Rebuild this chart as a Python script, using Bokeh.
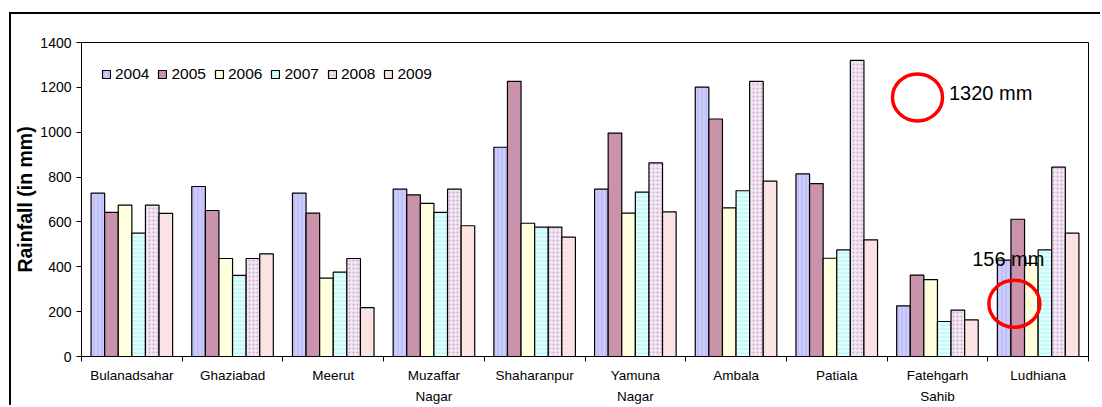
from bokeh.plotting import figure
from bokeh.models import ColumnDataSource, FixedTicker, Range1d
from bokeh.transform import dodge
from bokeh.core.properties import value
from bokeh.embed import file_html
from bokeh.resources import INLINE

districts = ["Bulanadsahar", "Ghaziabad", "Meerut", "Muzaffar\nNagar", "Shaharanpur",
             "Yamuna\nNagar", "Ambala", "Patiala", "Fatehgarh\nSahib", "Ludhiana"]
years = ["2004", "2005", "2006", "2007", "2008", "2009"]
r2004 = [728, 758, 728, 746, 933, 746, 1201, 814, 226, 430]
r2005 = [643, 651, 639, 721, 1227, 996, 1059, 771, 363, 612]
r2006 = [675, 437, 349, 683, 594, 639, 663, 438, 343, 415]
r2007 = [550, 362, 376, 643, 577, 733, 739, 475, 156, 475]
r2008 = [675, 437, 437, 746, 577, 863, 1227, 1320, 207, 844]
r2009 = [638, 458, 218, 583, 532, 645, 782, 520, 163, 550]
y_ticks = [0, 200, 400, 600, 800, 1000, 1200, 1400]

# annotation texts and their places (data coordinates)
note_texts = ["1320 mm", "156 mm"]
note_x = [8.614, 8.845]
note_y = [1177, 435]
ring_x = [8.302, 9.264]
ring_y = [1155, 235]
ring_w = [50, 51]
ring_h = [47, 47]

FONT = "Liberation Sans"
fills = ["#ccccff", "#c994ab", "#ffffdd", "#dcffff", "#f3e6f3", "#ffeeee"]
hatch = ["|", " ", " ", "-", ".", "/"]
hatch_col = ["#b4b4f0", "#c994ab", "#ffffdd", "#b8eeee", "#caa6ca", "#f6d6d6"]

series = [r2004, r2005, r2006, r2007, r2008, r2009]
xs = [i + 0.5 for i in range(len(districts))]
data = {"x": xs}
for yr, vals in zip(years, series):
    data["y" + yr] = vals
src = ColumnDataSource(data)

p = figure(width=1091, height=393, output_backend="svg", toolbar_location=None,
           x_range=Range1d(0, len(districts)), y_range=Range1d(0, 1400),
           min_border_left=66, min_border_right=14, min_border_top=28, min_border_bottom=51)
p.margin = (12, 0, 0, 9)
p.styles = {"border-left": "2px solid black", "border-top": "2px solid black"}
p.xgrid.visible = False
p.ygrid.visible = False
p.outline_line_color = "black"
p.outline_line_width = 1
p.background_fill_color = "white"
p.border_fill_color = "white"

bw = 0.135
for k, yr in enumerate(years):
    off = (k - 2.5) * bw
    p.vbar(x=dodge("x", off), top="y" + yr, width=bw, source=src,
           fill_color=fills[k], line_color="black", line_width=1.2,
           hatch_pattern=hatch[k], hatch_color=hatch_col[k], hatch_scale=4, hatch_weight=1,
           legend_label=yr)

# annotations
p.text(x=note_x, y=note_y, text=note_texts, text_font=value(FONT), text_font_size="20px",
       text_color="black", text_baseline="middle", text_align="left")
p.ellipse(x=ring_x, y=ring_y, width=ring_w, height=ring_h, width_units="screen",
          height_units="screen", fill_color=None, line_color="#ff0000", line_width=3.5)

# y axis
ya = p.yaxis[0]
ya.ticker = FixedTicker(ticks=y_ticks, minor_ticks=[])
ya.major_tick_out = 5
ya.major_tick_in = 0
ya.axis_line_color = "black"
ya.major_tick_line_color = "black"
ya.major_label_text_font = FONT
ya.major_label_text_font_size = "14px"
ya.major_label_text_color = "black"
ya.major_label_standoff = 5
ya.axis_label = "Rainfall (in mm)"
ya.axis_label_text_font = FONT
ya.axis_label_text_font_style = "bold"
ya.axis_label_text_font_size = "19.5px"
ya.axis_label_text_color = "black"
ya.axis_label_standoff = 1

# x axis
xa = p.xaxis[0]
xa.ticker = FixedTicker(ticks=xs, minor_ticks=list(range(len(districts) + 1)))
xa.major_label_overrides = {x: d for x, d in zip(xs, districts)}
xa.major_tick_out = 0
xa.major_tick_in = 0
xa.minor_tick_out = 5
xa.minor_tick_in = 0
xa.minor_tick_line_color = "black"
xa.axis_line_color = "black"
xa.major_label_text_font = FONT
xa.major_label_text_font_size = "13.5px"
xa.major_label_text_color = "black"
xa.major_label_text_line_height = 1.45
xa.major_label_standoff = 6

lg = p.legend[0]
lg.orientation = "horizontal"
lg.location = "top_left"
lg.border_line_color = None
lg.background_fill_alpha = 0
lg.label_text_font = FONT
lg.label_text_font_size = "15.5px"
lg.label_text_color = "black"
lg.glyph_width = 10
lg.glyph_height = 10
lg.label_standoff = 4
lg.spacing = 8
lg.margin = 20
lg.padding = 10
lg.label_height = 24

open("out.html", "w").write(file_html(p, INLINE))
